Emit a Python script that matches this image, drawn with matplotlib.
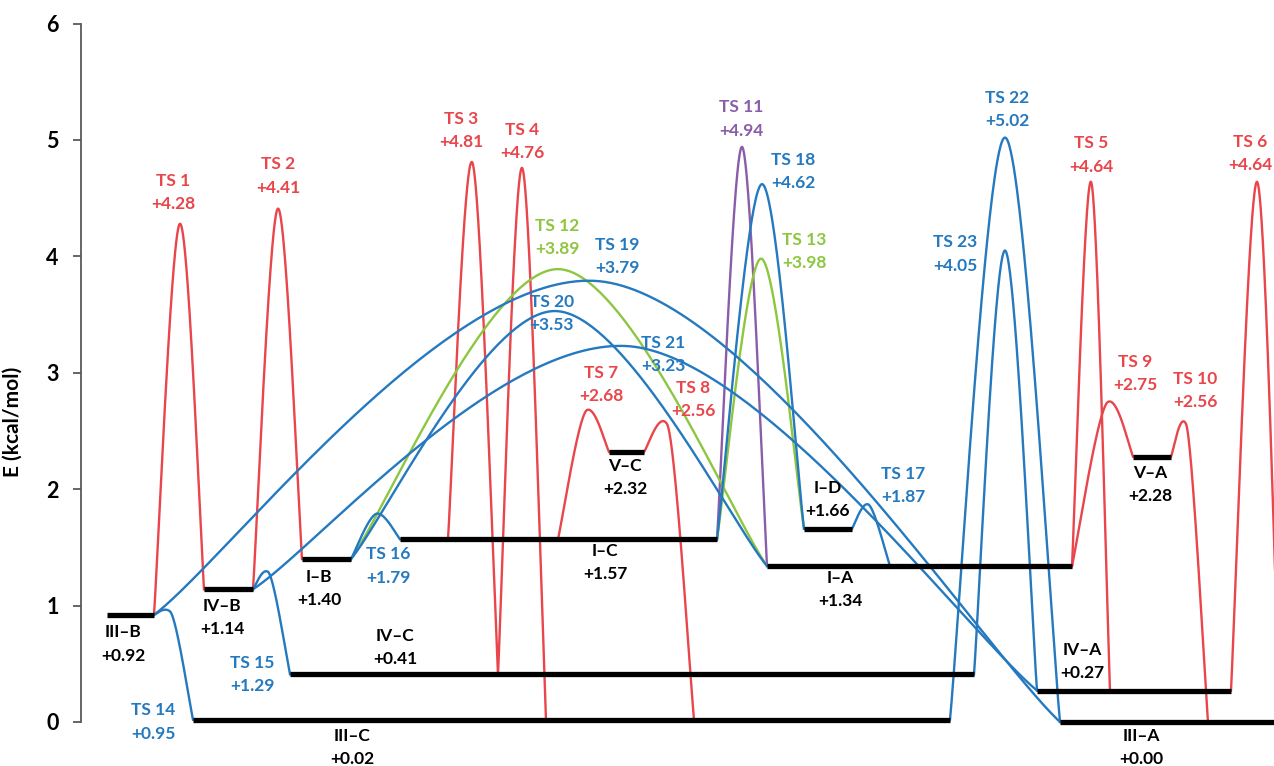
import numpy as np
import matplotlib.pyplot as plt

# intermediates (bars): name, energy, left/right end of bar (diagram x units)
state_names = ["III–B", "IV–B", "I–B", "I–C", "V–C", "I–D", "I–A",
               "IV–C", "III–C", "III–A", "IV–A", "V–A"]
state_E = [0.92, 1.14, 1.40, 1.57, 2.32, 1.66, 1.34, 0.41, 0.02, 0.00, 0.27, 2.28]
state_x0 = [107, 204, 302, 400, 609, 804, 767, 290, 193, 1060, 1037, 1133]
state_x1 = [154, 253, 351, 717, 644, 852, 1072, 974, 950, 1290, 1231, 1171]
# label centres
state_lx = [123, 222, 319, 605, 625, 828, 840, 395, 352, 1141, 1082, 1150]
state_ly = [0.67, 0.90, 1.15, 1.37, 2.10, 1.91, 1.14, 0.64, -0.22, -0.22, 0.52, 2.04]

# transition states
ts_num = list(range(1, 24))
ts_E = [4.28, 4.41, 4.81, 4.76, 4.64, 4.64, 2.68, 2.56, 2.75, 2.56, 4.94, 3.89,
        3.98, 0.95, 1.29, 1.79, 1.87, 4.62, 3.79, 3.53, 3.23, 5.02, 4.05]
ts_x = [180, 278, 472, 522, 1091, 1257, 587, 667, 1108, 1186, 742, 558,
        761, 170, 268, 377, 868, 762, 593, 555, 625, 1005, 1005]
# connection: from state / x where the path leaves, to state / x where it lands
ts_from = ["III–B", "IV–B", "I–C", "IV–C", "I–A", "IV–A", "I–C", "V–C", "I–A", "V–A",
           "I–C", "I–B", "I–C", "III–B", "IV–B", "I–B", "I–D", "I–C", "III–B", "I–B",
           "IV–B", "III–C", "IV–C"]
ts_from_x = [154, 253, 448, 498, 1072, 1231, 558, 644, 1072, 1171, 717, 351,
             717, 154, 253, 351, 852, 717, 154, 351, 253, 950, 974]
ts_to = ["IV–B", "I–B", "IV–C", "III–C", "IV–A", "III–A", "V–C", "III–C", "V–A", "III–A",
         "I–A", "I–A", "I–D", "III–C", "IV–C", "I–C", "I–A", "I–D", "III–A", "I–A",
         "IV–A", "III–A", "IV–A"]
ts_to_x = [204, 302, 498, 546, 1110, 1280, 609, 694, 1133, 1208, 767, 767,
           804, 193, 290, 400, 890, 804, 1060, 767, 1037, 1060, 1037]
ts_color = ["red"] * 10 + ["purple", "green", "green"] + ["blue"] * 10
ts_lx = [173, 278, 461, 522, 1091, 1250, 601, 693, 1135, 1195, 741, 557,
         804, 153, 252, 388, 903, 793, 617, 552, 663, 1007, 955]
ts_ly = [4.55, 4.69, 5.08, 4.99, 4.87, 4.88, 2.90, 2.77, 2.99, 2.85, 5.18, 4.16,
         4.04, 0.00, 0.41, 1.34, 2.03, 4.73, 4.00, 3.51, 3.16, 5.26, 4.02]

colors = {"red": "#E8464B", "purple": "#8A5DA8", "green": "#8DC63F", "blue": "#2479BF"}
E_of = dict(zip(state_names, state_E))


def smooth(px, py, n=80, flat=0.3):
    # excel-like smoothed line (catmull-rom as bezier), flatter at the top
    P = np.column_stack([px, py]).astype(float)
    Q = np.vstack([P[0], P, P[-1]])
    tang = [(Q[i + 2] - Q[i]) / 6 for i in range(len(P))]
    for i in range(1, len(P) - 1):
        tang[i] = tang[i] * np.array([1.0, flat])
    segs = []
    t = np.linspace(0, 1, n)[:, None]
    for i in range(len(P) - 1):
        p1, p2 = P[i], P[i + 1]
        c1 = p1 + tang[i]
        c2 = p2 - tang[i + 1]
        segs.append((1 - t) ** 3 * p1 + 3 * (1 - t) ** 2 * t * c1
                    + 3 * (1 - t) * t ** 2 * c2 + t ** 3 * p2)
    return np.vstack(segs)


plt.rcParams['font.family'] = ['Lato', 'DejaVu Sans']
fig = plt.figure(figsize=(12.74, 7.66), dpi=100)
ax = fig.add_axes([81 / 1274, 44 / 766, 1 - 81 / 1274, (722 - 23.5) / 766])

for i in range(len(ts_num)):
    pts = smooth([ts_from_x[i], ts_x[i], ts_to_x[i]],
                 [E_of[ts_from[i]], ts_E[i], E_of[ts_to[i]]])
    c = colors[ts_color[i]]
    ax.plot(pts[:, 0], pts[:, 1], color=c, lw=1.7, clip_on=False, zorder=2)
    ax.text(ts_lx[i], ts_ly[i], f"TS {ts_num[i]}\n+{ts_E[i]:.2f}", color=c,
            ha="center", va="center", fontsize=12.5, fontweight="bold",
            linespacing=1.55, zorder=4)

for i in range(len(state_names)):
    ax.plot([state_x0[i], state_x1[i]], [state_E[i], state_E[i]], color="black",
            lw=3.8, solid_capstyle="butt", clip_on=False, zorder=3)
    ax.text(state_lx[i], state_ly[i], f"{state_names[i]}\n+{state_E[i]:.2f}",
            color="black", ha="center", va="center", fontsize=12.5,
            fontweight="bold", linespacing=1.55, zorder=4)

ax.set_xlim(81, 1274)
ax.set_ylim(0, 6)
ax.set_yticks(range(7))
ax.set_xticks([])
for s in ["top", "right", "bottom"]:
    ax.spines[s].set_visible(False)
ax.spines["left"].set_color("#595959")
ax.spines["left"].set_linewidth(1.3)
ax.tick_params(axis="y", direction="out", length=6, width=1.3, color="#595959",
               labelsize=15.5, pad=10)
for lab in ax.get_yticklabels():
    lab.set_fontweight("bold")
ax.set_ylabel("E (kcal/mol)", fontsize=15, fontweight="bold")
ax.yaxis.set_label_coords(-0.049, 0.43)

fig.savefig("out.png", dpi=100)
